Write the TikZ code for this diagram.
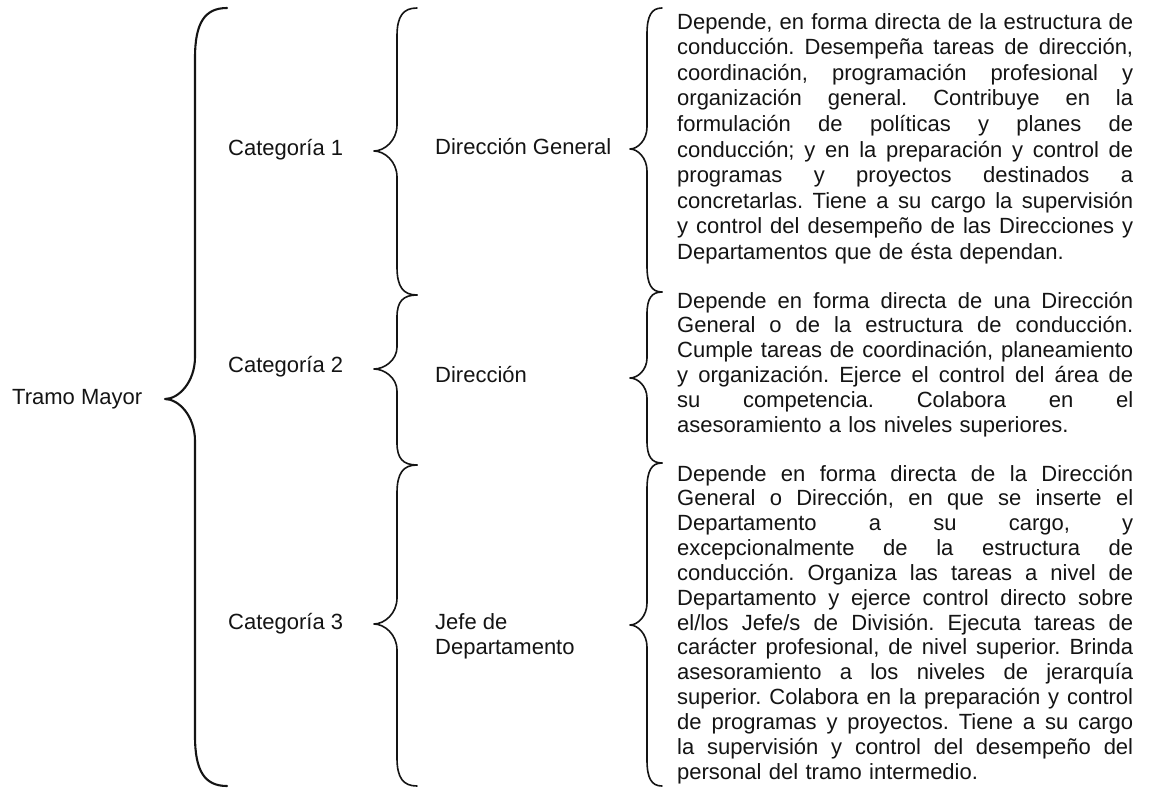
\documentclass[tikz,border=0pt]{standalone}
\usepackage{fontspec}
\setmainfont{Liberation Sans}
\definecolor{ink}{HTML}{141414}
\newlength\pw
\setlength\pw{456pt}
\frenchspacing
% one justified line of a paragraph
\newcommand\jl[1]{\leavevmode\hbox to\pw{\spaceskip=0.278em plus 1fil\relax#1}\\}
% brace: #1 xend, #2 xvert, #3 xtip, #4 ytop, #5 ytip, #6 ybottom, #7 end radius, #8 tip radius, #9 style
\newcommand\mybrace[9]{%
  \draw[#9] (#1,#4) .. controls ({#2+0.3*(#1-#2)},#4) and (#2,{#4+0.3*#7}) .. (#2,{#4+#7})
    -- (#2,{#5-#8}) .. controls (#2,{#5-0.4*#8}) and ({#3+0.45*(#2-#3)},#5) .. (#3,#5)
    .. controls ({#3+0.45*(#2-#3)},#5) and (#2,{#5+0.4*#8}) .. (#2,{#5+#8})
    -- (#2,{#6-#7}) .. controls (#2,{#6-0.3*#7}) and ({#2+0.3*(#1-#2)},#6) .. (#1,#6);}
\tikzset{
  lbl/.style={anchor=base west, inner sep=0pt, text=ink, font=\fontsize{22}{25}\selectfont},
  para/.style={anchor=base west, inner sep=0pt, text=ink, text width=\pw, align=left},
  bigbrace/.style={draw=ink, line width=2.1pt, line cap=round, line join=round},
  midbrace/.style={draw=ink, line width=1.6pt, line cap=round, line join=round}
}
\begin{document}
\begin{tikzpicture}[x=1pt,y=-1pt]
\fill[white] (0,0) rectangle (1149,790);

% labels
\node[lbl] (tm) at (12,404) {Tramo Mayor};
\node[lbl] (c1) at (228,155) {Categoría 1};
\node[lbl] (c2) at (228,372) {Categoría 2};
\node[lbl] (c3) at (228,629) {Categoría 3};
\node[lbl] (dg) at (435,154) {Dirección General};
\node[lbl] (di) at (435,382) {Dirección};
\node[lbl, align=left] (jd) at (435,654) {Jefe de\\Departamento};

% braces
\mybrace{227}{195}{165}{8}{399}{786}{50}{42}{bigbrace}
\mybrace{417}{397}{374}{8}{151}{295}{28}{26}{midbrace}
\mybrace{417}{397}{374}{295}{369}{465}{22}{22}{midbrace}
\mybrace{417}{397}{374}{465}{624}{786}{28}{26}{midbrace}
\mybrace{662}{647}{630}{8}{149}{292}{26}{22}{midbrace}
\mybrace{662}{647}{630}{292}{378}{463}{22}{20}{midbrace}
\mybrace{662}{647}{630}{463}{625}{786}{26}{22}{midbrace}

% paragraphs
\node[para, font=\fontsize{22}{25.6}\selectfont] (p1) at (677,29) {%
\jl{Depende, en forma directa de la estructura de}
\jl{conducción. Desempeña tareas de dirección,}
\jl{coordinación, programación profesional y}
\jl{organización general. Contribuye en la}
\jl{formulación de políticas y planes de}
\jl{conducción; y en la preparación y control de}
\jl{programas y proyectos destinados a}
\jl{concretarlas. Tiene a su cargo la supervisión}
\jl{y control del desempeño de las Direcciones y}
Departamentos que de ésta dependan.};

\node[para, font=\fontsize{22}{24.8}\selectfont] (p2) at (677,308) {%
\jl{Depende en forma directa de una Dirección}
\jl{General o de la estructura de conducción.}
\jl{Cumple tareas de coordinación, planeamiento}
\jl{y organización. Ejerce el control del área de}
\jl{su competencia. Colabora en el}
asesoramiento a los niveles superiores.};

\node[para, font=\fontsize{22}{24.85}\selectfont] (p3) at (677,481) {%
\jl{Depende en forma directa de la Dirección}
\jl{General o Dirección, en que se inserte el}
\jl{Departamento a su cargo, y}
\jl{excepcionalmente de la estructura de}
\jl{conducción. Organiza las tareas a nivel de}
\jl{Departamento y ejerce control directo sobre}
\jl{el/los Jefe/s de División. Ejecuta tareas de}
\jl{carácter profesional, de nivel superior. Brinda}
\jl{asesoramiento a los niveles de jerarquía}
\jl{superior. Colabora en la preparación y control}
\jl{de programas y proyectos. Tiene a su cargo}
\jl{la supervisión y control del desempeño del}
personal del tramo intermedio.};
\end{tikzpicture}
\end{document}
